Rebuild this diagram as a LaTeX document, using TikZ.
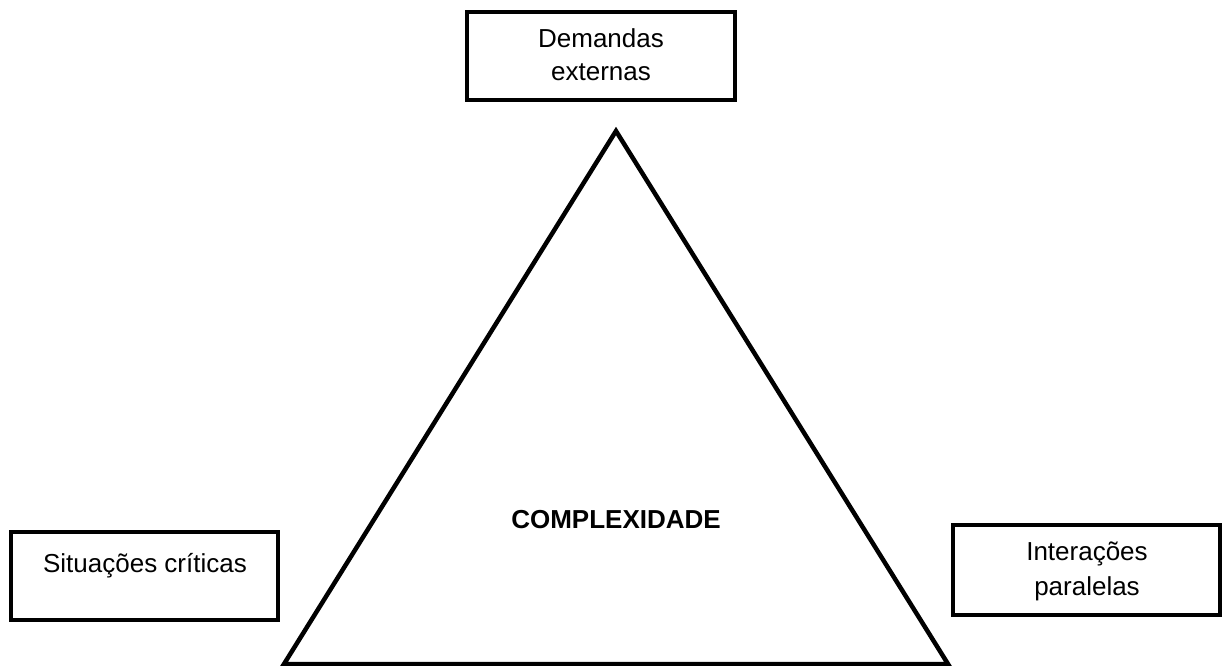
\documentclass[tikz,border=0pt]{standalone}
\usepackage{fontspec}
\setmainfont{Liberation Sans}
\begin{document}
\begin{tikzpicture}[x=1pt,y=-1pt,
  frame/.style={draw=black,line width=4.5pt,line join=miter},
  lbl/.style={anchor=base,inner sep=0pt,font=\fontsize{26}{30}\selectfont}]
\useasboundingbox (0,0) rectangle (1223,665);
\clip (0,0) rectangle (1223,665);
% boxes
\node[frame,minimum width=268pt,minimum height=88pt,inner sep=0pt] (ext) at (601,56) {};
\node[frame,minimum width=267pt,minimum height=88pt,inner sep=0pt] (sit) at (144.5,576) {};
\node[frame,minimum width=267pt,minimum height=90pt,inner sep=0pt] (int) at (1086.5,570) {};
% triangle
\coordinate (top) at (616,131);
\coordinate (bl) at (284,664);
\coordinate (br) at (948,664);
\draw[frame] (top) -- (br) -- (bl) -- cycle;
% texts
\node[lbl] (t1) at (601,47) {Demandas};
\node[lbl] (t2) at (601,80) {externas};
\node[lbl] (t3) at (145,572) {Situações críticas};
\node[lbl] (t4) at (1087,560) {Interações};
\node[lbl] (t5) at (1087,595) {paralelas};
\node[lbl,font=\fontsize{26}{30}\selectfont\bfseries] (cx) at (616,528) {COMPLEXIDADE};
\end{tikzpicture}
\end{document}
